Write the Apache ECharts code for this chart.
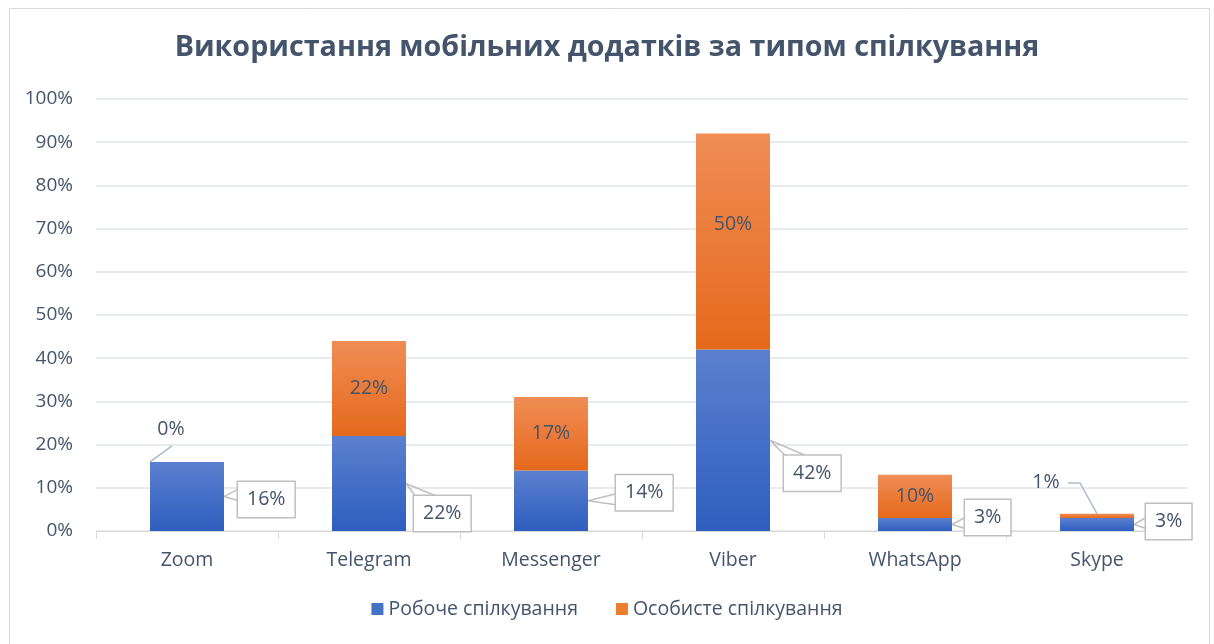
<!DOCTYPE html>
<html>
<head>
<meta charset="utf-8">
<script src="https://cdn.jsdelivr.net/npm/echarts@6/dist/echarts.min.js"></script>
<style>
  html, body { margin: 0; padding: 0; background: #fff; }
  #chart { width: 1214px; height: 644px; }
</style>
</head>
<body>
<div id="chart"></div>
<script>
const appNames = ['Zoom', 'Telegram', 'Messenger', 'Viber', 'WhatsApp', 'Skype'];
const workShare = [16, 22, 14, 42, 3, 3];        // Робоче спілкування
const personalShare = [0, 22, 17, 50, 10, 1];   // Особисте спілкування
const seriesNames = ['Робоче спілкування', 'Особисте спілкування'];

// callout placement: [gap from bar edge, shift of box centre]
const workCallout = [[14, 3], [8, 30], [28, -8], [14, 33], [13, -7], [12, -3]];
const personalLabelShift = [[-16, -32], [0, 0], [0, 0], [0, -17], [0, 0], [-51, -33]];

const textColor = '#44546a';
const font = '"Open Sans", "Noto Sans", sans-serif';
const barW = 74;
const boxH = 36;

const chart = echarts.init(document.getElementById('chart'));

// leader lines / callout wedges, placed from the same scales as the bars
function renderLeaders(params, api) {
    const i = api.value(0);
    const base = api.coord([i, 0]);
    const cx = base[0];
    const yWork = api.coord([i, workShare[i]])[1];
    const yTotal = api.coord([i, workShare[i] + personalShare[i]])[1];
    const children = [];
    const boxStyle = { stroke: '#bfbfbf', lineWidth: 1.5, fill: 'none' };
    const leadStyle = { stroke: '#aebacb', lineWidth: 1.5, fill: 'none' };

    // blue callout wedge
    const px = cx + barW / 2, py = (base[1] + yWork) / 2;
    const c = workCallout[i];
    const left = px + c[0], cy = py + c[1];
    const top = cy - boxH / 2, bottom = cy + boxH / 2;
    let b1, b2;
    if (py < top) {
        b1 = [left + 1, top]; b2 = [left + 21, top];
    } else {
        b1 = [left, Math.max(top + 1, py - 7)]; b2 = [left, Math.min(bottom - 1, py + 4)];
    }
    children.push({ type: 'polyline', shape: { points: [b1, [px, py], b2] }, style: boxStyle });

    // orange leaders for the labels moved off the bar
    const s = personalLabelShift[i];
    const lx = cx + s[0], ly = (yWork + yTotal) / 2 + s[1];
    if (i === 0) {
        children.push({ type: 'polyline', shape: { points: [[cx - barW / 2, yTotal], [lx + 1, ly + 16]] }, style: leadStyle });
    } else if (i === appNames.length - 1) {
        children.push({ type: 'polyline', shape: { points: [[lx + 22, ly], [lx + 34, ly], [cx, yTotal]] }, style: leadStyle });
    }
    return { type: 'group', children: children };
}

const option = {
    animation: false,
    textStyle: { fontFamily: font },
    graphic: [{
        type: 'rect', left: 7, top: 6,
        shape: { width: 1200, height: 700 },
        style: { fill: 'none', stroke: '#d9d9d9', lineWidth: 1 }
    }],
    title: {
        text: 'Використання мобільних додатків за типом спілкування',
        left: 'center', top: 28,
        textStyle: { fontSize: 28.7, fontWeight: 'bold', color: textColor, fontFamily: font }
    },
    legend: {
        bottom: 20, left: 'center',
        itemWidth: 12, itemHeight: 12, itemGap: 38,
        icon: 'rect',
        textStyle: { fontSize: 19.5, color: textColor, fontFamily: font },
        data: [
            { name: seriesNames[0], itemStyle: { color: '#4472c4' } },
            { name: seriesNames[1], itemStyle: { color: '#ed7d31' } }
        ]
    },
    grid: { left: 96, right: 26, top: 99, bottom: 113 },
    xAxis: {
        type: 'category',
        data: appNames,
        axisLine: { lineStyle: { color: '#d9d9d9', width: 1 } },
        axisTick: { show: true, length: 8, lineStyle: { color: '#d9d9d9' } },
        axisLabel: { fontSize: 19.5, color: textColor, margin: 19 }
    },
    yAxis: {
        type: 'value', min: 0, max: 100, interval: 10,
        axisLabel: { formatter: '{value}%', fontSize: 19, color: textColor, margin: 23 },
        splitLine: { lineStyle: { color: '#dfe3e8', width: 1.5 } }
    },
    series: [{
        name: seriesNames[0],
        type: 'bar', stack: 'total', barWidth: barW,
        itemStyle: {
            color: new echarts.graphic.LinearGradient(0, 0, 0, 1, [
                { offset: 0, color: '#5b80cf' },
                { offset: 1, color: '#2e5ebf' }
            ])
        },
        label: {
            show: true, position: 'right', formatter: '{c}%',
            fontSize: 19.5, color: textColor,
            backgroundColor: '#fff', borderColor: '#bfbfbf', borderWidth: 1.5,
            padding: [8, 9, 7, 9]
        },
        labelLayout: function (p) {
            const r = p.rect, c = workCallout[p.dataIndex];
            return {
                x: r.x + r.width + c[0], y: r.y + r.height / 2 + c[1],
                align: 'left', verticalAlign: 'middle'
            };
        },
        data: workShare
    }, {
        name: seriesNames[1],
        type: 'bar', stack: 'total', barWidth: barW,
        itemStyle: {
            color: new echarts.graphic.LinearGradient(0, 0, 0, 1, [
                { offset: 0, color: '#f08d55' },
                { offset: 1, color: '#e5691c' }
            ])
        },
        label: {
            show: true, position: 'inside', formatter: '{c}%',
            fontSize: 19.5, color: textColor
        },
        labelLayout: function (p) {
            const r = p.rect, s = personalLabelShift[p.dataIndex];
            return {
                x: r.x + r.width / 2 + s[0], y: r.y + r.height / 2 + s[1],
                align: 'center', verticalAlign: 'middle'
            };
        },
        data: personalShare
    }, {
        type: 'custom',
        name: 'leaders',
        silent: true,
        renderItem: renderLeaders,
        encode: { x: 0, y: 1 },
        data: appNames.map((n, i) => [i, workShare[i] + personalShare[i]])
    }]
};

chart.setOption(option);
</script>
</body>
</html>
